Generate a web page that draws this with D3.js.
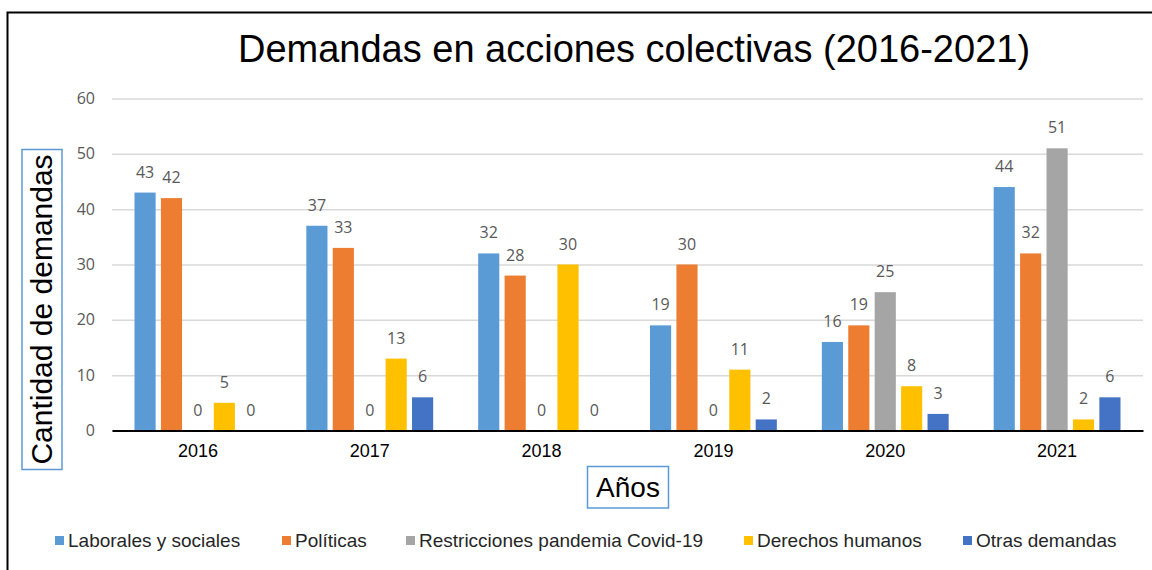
<!doctype html>
<html lang="es">
<head>
<meta charset="UTF-8">
<title>Demandas en acciones colectivas</title>
<script src="https://cdn.jsdelivr.net/npm/d3@7"></script>
<style>
	body { margin: 0; background: #fff; }
</style>
</head>
<body>
<div id="container"></div>
<script>
	// datos
	var years = ["2016", "2017", "2018", "2019", "2020", "2021"];
	var series = ["Laborales y sociales", "Políticas", "Restricciones pandemia Covid-19", "Derechos humanos", "Otras demandas"];
	var laborales = [43, 37, 32, 19, 16, 44];
	var politicas = [42, 33, 28, 30, 19, 32];
	var restricciones = [0, 0, 0, 0, 25, 51];
	var derechos = [5, 13, 30, 11, 8, 2];
	var otras = [0, 6, 0, 2, 3, 6];
	var yTicks = [0, 10, 20, 30, 40, 50, 60];
	var colors = ["#5B9BD5", "#ED7D31", "#A5A5A5", "#FFC000", "#4472C4"];

	var values = [laborales, politicas, restricciones, derechos, otras];
	var width = 1152, height = 570;
	var plot = {left: 112, right: 1143, top: 98.5, bottom: 430.5};

	var svg = d3.select("#container")
			.append("svg")
			.attr("width", width)
			.attr("height", height)
			.style("font-family", "'Liberation Sans', Arial, sans-serif");

	svg.append("rect")
			.attr("width", width).attr("height", height)
			.attr("fill", "#fff");

	// borde exterior (solo se ven izquierda y arriba)
	svg.append("path")
			.attr("d", "M7.5," + (height + 5) + "V12.5H" + (width + 5))
			.attr("fill", "none")
			.attr("stroke", "#000")
			.attr("stroke-width", 2);

	var x0 = d3.scaleBand()
			.domain(years)
			.range([plot.left, plot.right]);
	var x1 = d3.scaleBand()
			.domain(series)
			.range([22.5, x0.bandwidth() - 22.5])
			.paddingInner(0.2);
	var y = d3.scaleLinear()
			.domain([0, 60])
			.range([plot.bottom, plot.top]);

	// rejilla
	var yAxis = d3.axisLeft(y)
			.tickValues(yTicks)
			.tickSize(-(plot.right - plot.left))
			.tickPadding(17);
	var gy = svg.append("g")
			.attr("transform", "translate(" + plot.left + ",0)")
			.call(yAxis);
	gy.select(".domain").remove();
	gy.selectAll(".tick line").attr("stroke", "#D9D9D9").attr("stroke-width", 1.5);
	gy.selectAll(".tick text")
			.attr("fill", "#595959")
			.style("font-family", "'Open Sans', sans-serif")
			.style("font-size", "16px");

	// barras
	var groups = svg.append("g").selectAll("g")
			.data(years)
			.join("g")
			.attr("transform", function (d) { return "translate(" + x0(d) + ",0)"; });

	groups.selectAll("rect")
			.data(function (d, i) {
				return series.map(function (s, j) { return {s: s, j: j, v: values[j][i]}; });
			})
			.join("rect")
			.attr("x", function (d) { return x1(d.s); })
			.attr("width", x1.bandwidth())
			.attr("y", function (d) { return y(d.v); })
			.attr("height", function (d) { return y(0) - y(d.v); })
			.attr("fill", function (d) { return colors[d.j]; });

	groups.selectAll("text")
			.data(function (d, i) {
				return series.map(function (s, j) { return {s: s, j: j, v: values[j][i]}; });
			})
			.join("text")
			.attr("x", function (d) { return x1(d.s) + x1.bandwidth() / 2; })
			.attr("y", function (d) { return y(d.v) - 15; })
			.attr("text-anchor", "middle")
			.attr("fill", "#595959")
			.style("font-family", "'Open Sans', sans-serif")
			.style("font-size", "16px")
			.text(function (d) { return d.v; });

	// eje x
	var xAxis = d3.axisBottom(x0).tickSize(0).tickPadding(14);
	var gx = svg.append("g")
			.attr("transform", "translate(0," + plot.bottom + ")")
			.call(xAxis);
	gx.select(".domain").attr("stroke", "#000").attr("stroke-width", 2);
	gx.selectAll(".tick text")
			.attr("fill", "#000")
			.style("font-family", "'Liberation Sans', Arial, sans-serif")
			.style("font-size", "18px");

	// titulo
	svg.append("text")
			.attr("x", 634).attr("y", 62)
			.attr("text-anchor", "middle")
			.style("font-size", "38px")
			.attr("fill", "#000")
			.text("Demandas en acciones colectivas (2016-2021)");

	// titulo eje y
	svg.append("rect")
			.attr("x", 22).attr("y", 149.5).attr("width", 40).attr("height", 320)
			.attr("fill", "#fff").attr("stroke", "#5B9BD5").attr("stroke-width", 1.5);
	svg.append("text")
			.attr("transform", "translate(52,309.5) rotate(-90)")
			.attr("text-anchor", "middle")
			.style("font-size", "30px")
			.attr("fill", "#000")
			.text("Cantidad de demandas");

	// titulo eje x
	svg.append("rect")
			.attr("x", 587.5).attr("y", 466.5).attr("width", 81).attr("height", 41.5)
			.attr("fill", "#fff").attr("stroke", "#5B9BD5").attr("stroke-width", 1.5);
	svg.append("text")
			.attr("x", 628).attr("y", 497)
			.attr("text-anchor", "middle")
			.style("font-size", "28px")
			.attr("fill", "#000")
			.text("Años");

	// leyenda
	var legendX = [55, 282, 406, 744, 963];
	var legend = svg.append("g").selectAll("g")
			.data(series)
			.join("g")
			.attr("transform", function (d, i) { return "translate(" + legendX[i] + ",0)"; });
	legend.append("rect")
			.attr("y", 536).attr("width", 9).attr("height", 9)
			.attr("fill", function (d, i) { return colors[i]; });
	legend.append("text")
			.attr("x", 13).attr("y", 547)
			.style("font-size", "19px")
			.attr("fill", "#262626")
			.text(function (d) { return d; });
</script>
</body>
</html>
